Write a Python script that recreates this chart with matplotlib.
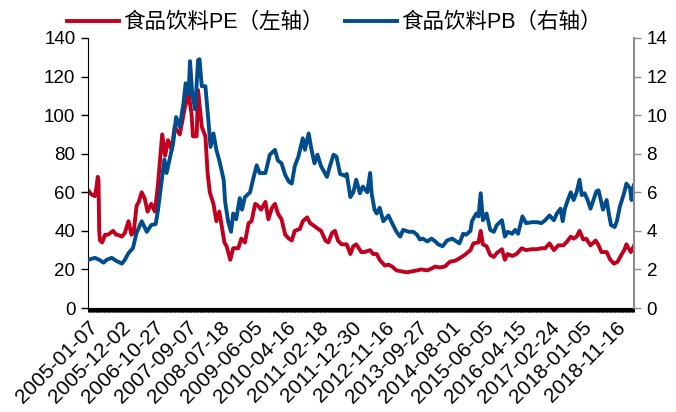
# Food & beverage sector valuation: weekly PE (left axis) and PB (right axis)
import matplotlib
matplotlib.use("Agg")
import matplotlib.pyplot as plt
import numpy as np

plt.rcParams["font.family"] = ["Liberation Sans", "Noto Sans CJK SC"]

C_PE, C_PB = "#C0001E", "#004C8C"

# weekly category axis: 746 trading weeks, one date label every 45 weeks
N_WEEKS = 746
LABEL_STEP = 45
tick_labels = ["2005-01-07", "2005-12-02", "2006-10-27", "2007-09-07",
               "2008-07-18", "2009-06-05", "2010-04-16", "2011-02-18",
               "2011-12-30", "2012-11-16", "2013-09-27", "2014-08-01",
               "2015-06-05", "2016-04-15", "2017-02-24", "2018-01-05",
               "2018-11-16"]

# PE, left axis (week index, value)
pe_wk = [0, 4, 9, 11, 13, 14, 15, 16, 19, 23, 27, 34, 38, 40, 46, 50, 55, 59,
         62, 66, 69, 73, 77, 81, 86, 91, 95, 101, 105, 109, 114, 118, 125,
         132, 137, 141, 143, 148, 150, 155, 160, 163, 166, 171, 175, 179, 186,
         189, 194, 198, 205, 209, 214, 219, 223, 228, 232, 236, 242, 246, 251,
         255, 259, 264, 269, 274, 278, 282, 289, 293, 299, 303, 307, 314, 318,
         324, 328, 333, 337, 341, 346, 353, 358, 362, 366, 373, 377, 385, 389,
         394, 398, 405, 410, 415, 421, 428, 435, 442, 449, 455, 463, 469, 474,
         480, 487, 494, 501, 508, 514, 522, 526, 533, 536, 539, 544, 549, 554,
         558, 565, 569, 573, 579, 585, 592, 598, 606, 613, 619, 624, 630, 636,
         642, 649, 654, 659, 663, 667, 671, 676, 680, 686, 693, 697, 701, 708,
         713, 718, 723, 728, 732, 735, 741, 745]
pe_val = [61, 59, 58, 62, 68, 66, 40, 35, 34, 38, 38, 40, 38, 38, 37, 39, 45,
          38, 39, 53, 55, 60, 57, 50, 54, 50, 63, 90, 79, 87, 82, 94, 90, 104,
          111, 101, 89, 89, 113, 94, 89, 70, 60, 54, 45, 50, 34, 32, 25, 31,
          31, 36, 34, 44, 45, 54, 53, 51, 55, 46, 52, 54, 49, 46, 38, 36, 35,
          40, 41, 45, 47, 44, 43, 41, 40, 35, 34, 39, 40, 35, 33, 33, 28, 32,
          33, 29, 29, 30, 28, 28, 25, 22, 22.5, 21.5, 19.5, 19, 18.5, 19,
          19.5, 20, 19.5, 20.5, 21.5, 21, 21.5, 24, 24.5, 26, 27.5, 30, 33.5,
          34, 40, 33, 32, 27.5, 26.5, 28.5, 30.5, 25, 28, 27, 28, 31, 30,
          30.5, 30.5, 31, 31, 33.5, 30, 32.5, 32.5, 34.5, 37, 36, 37, 40,
          35.5, 36, 32.5, 35, 32.5, 29, 29, 25, 23, 24, 27.5, 30, 33, 29, 32]

# PB, right axis (week index, value)
pb_wk = [0, 9, 15, 21, 25, 32, 38, 46, 50, 55, 61, 66, 73, 80, 86, 92, 95,
         100, 104, 107, 112, 116, 120, 125, 130, 133, 137, 139, 142, 146, 150,
         152, 155, 160, 164, 167, 171, 175, 179, 185, 187, 191, 195, 198, 202,
         207, 210, 214, 221, 225, 230, 234, 242, 248, 255, 259, 264, 269, 274,
         278, 282, 287, 293, 296, 301, 305, 309, 313, 318, 326, 330, 335, 339,
         344, 351, 353, 358, 362, 366, 371, 375, 381, 385, 387, 391, 394, 398,
         403, 410, 415, 421, 426, 430, 438, 444, 449, 453, 457, 463, 469, 474,
         478, 484, 490, 497, 501, 507, 512, 516, 522, 524, 530, 533, 536, 539,
         544, 549, 554, 558, 565, 569, 573, 579, 583, 587, 593, 598, 606, 613,
         619, 624, 630, 636, 640, 645, 648, 651, 655, 659, 663, 667, 671, 674,
         678, 682, 686, 690, 694, 697, 700, 703, 708, 711, 714, 719, 722, 726,
         731, 735, 740, 742, 745]
pb_val = [2.5, 2.6, 2.5, 2.35, 2.5, 2.6, 2.45, 2.3, 2.5, 2.85, 3.1, 3.9, 4.5,
          3.95, 4.3, 4.35, 5.0, 6.5, 7.7, 7.0, 7.85, 8.55, 9.9, 9.4, 10.6,
          11.65, 11.1, 12.8, 11.1, 10.3, 12.85, 12.9, 11.5, 11.5, 9.75, 8.35,
          9.05, 8.2, 7.65, 6.65, 5.5, 4.5, 3.95, 4.9, 4.6, 5.7, 5.1, 5.75, 6.0,
          6.65, 7.4, 7.0, 7.0, 7.95, 8.2, 7.65, 7.5, 6.9, 6.55, 6.45, 7.35,
          7.85, 8.8, 8.2, 9.05, 8.2, 7.5, 7.95, 7.35, 6.8, 7.35, 7.95, 7.85,
          6.95, 6.85, 6.95, 5.75, 6.0, 6.65, 5.95, 6.3, 6.0, 7.0, 5.95, 5.1,
          4.9, 5.2, 4.5, 4.8, 4.4, 3.95, 3.7, 4.05, 3.95, 3.95, 3.8, 3.55,
          3.6, 3.45, 3.6, 3.45, 3.3, 3.2, 3.5, 3.6, 3.5, 3.35, 3.85, 3.8, 4.0,
          4.5, 4.9, 4.75, 5.95, 4.55, 4.9, 4.05, 3.95, 4.3, 4.55, 3.7, 3.95,
          3.85, 4.05, 3.85, 4.75, 4.4, 4.45, 4.45, 4.4, 4.55, 4.8, 4.55, 4.9,
          5.15, 4.5, 5.15, 5.6, 6.0, 5.6, 6.0, 6.65, 5.85, 5.95, 5.6, 5.15,
          5.6, 6.05, 6.1, 5.6, 5.1, 5.6, 4.9, 4.3, 4.2, 4.5, 5.25, 5.85, 6.45,
          6.2, 5.6, 6.35]

fig = plt.figure(figsize=(6.76, 4.12), dpi=100)
ax = fig.add_axes([0.130, 0.2524, 0.808, 0.6554])
ax2 = ax.twinx()

l1, = ax.plot(pe_wk, pe_val, color=C_PE, lw=2.8, solid_joinstyle="round")
l2, = ax2.plot(pb_wk, pb_val, color=C_PB, lw=2.8, solid_joinstyle="round")

ax.set_xlim(-0.5, N_WEEKS - 0.5)
ax.set_ylim(0, 140)
ax.set_yticks(np.arange(0, 141, 20))
ax2.set_ylim(0, 14)
ax2.set_yticks(np.arange(0, 15, 2))

# every week gets a tick mark, which fills in as a solid band under the axis
ax.set_xticks(np.arange(len(tick_labels)) * LABEL_STEP)
ax.set_xticks(np.arange(N_WEEKS), minor=True)
ax.set_xticklabels(tick_labels, rotation=45, ha="right",
                   rotation_mode="anchor", fontsize=15)
ax.tick_params(axis="x", which="both", length=3.2, width=0.8, color="black",
               pad=4)
ax.tick_params(axis="y", length=5, width=1, color="black", labelsize=13.5,
               pad=4)
ax2.tick_params(axis="y", length=5, width=1, color="#8c8c8c", labelsize=13.5,
                pad=4)

for a in (ax, ax2):
    a.spines["top"].set_visible(False)
ax.spines["left"].set_color("black")
ax.spines["bottom"].set_color("black")
ax.spines["right"].set_visible(False)
ax2.spines["left"].set_visible(False)
ax2.spines["bottom"].set_visible(False)
ax2.spines["right"].set_color("#8c8c8c")
ax2.spines["right"].set_linewidth(1.5)

fig.legend([l1, l2], ["食品饮料PE（左轴）", "食品饮料PB（右轴）"],
           loc="center", bbox_to_anchor=(0.495, 0.945), ncol=2, frameon=False,
           fontsize=15.5, handlelength=2.4, handletextpad=0.2,
           columnspacing=1.0)

fig.savefig("out.png", dpi=100)
